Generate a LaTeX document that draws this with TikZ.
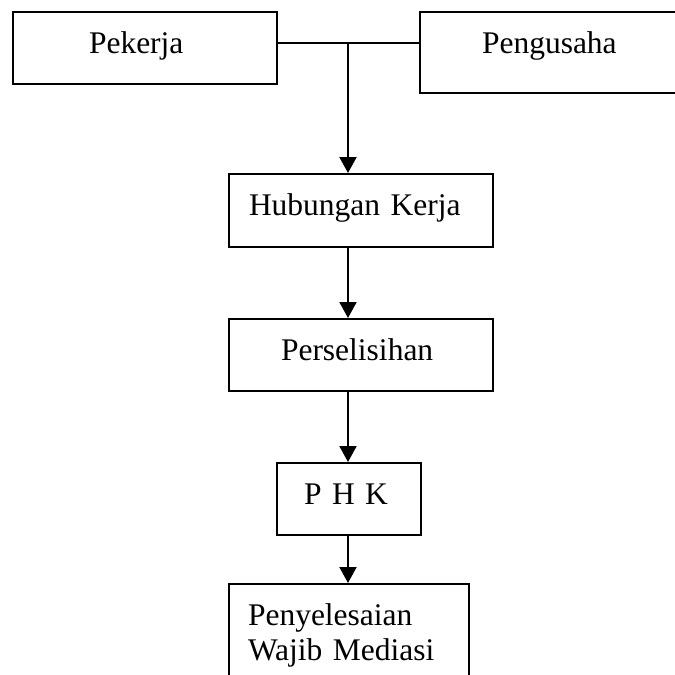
\documentclass[tikz,border=0pt]{standalone}
\usepackage{fontspec}
\setmainfont{Liberation Serif}
\usetikzlibrary{arrows.meta}

\begin{document}
\begin{tikzpicture}[x=1pt, y=-1pt,
  every node/.style = {shape=rectangle, draw, line width=2pt,
    align=left, inner ysep=0pt, text height=41pt,
    font=\fontsize{31.5}{35}\selectfont, anchor=north west},
  panah/.style = {line width=2pt, -{Triangle[length=16pt, width=17pt]}}]
  \useasboundingbox (0,0) rectangle (675,675);
  \node (pekerja) at (12,11) [inner xsep=76pt, text width=112pt, text depth=31pt] {Pekerja};
  \node (pengusaha) at (419,11) [inner xsep=62pt, text width=177pt, text depth=40pt] {Pengusaha};
  \node (hubungan) at (228,173) [inner xsep=20pt, text width=224pt, text depth=32pt] {Hubungan Kerja};
  \node (selisih) at (228,318) [inner xsep=52pt, text width=160pt, text depth=31pt] {Perselisihan};
  \node (phk) at (276,462) [inner xsep=27pt, text width=90pt, text depth=31pt] {P H K};
  \node (mediasi) at (228,583) [inner xsep=19pt, text width=202pt, text depth=80pt] {Penyelesaian\\Wajib Mediasi};
  \coordinate (j) at (348,43);
  % garis penghubung
  \draw[line width=2pt] (pekerja.east |- j) -- (pengusaha.west |- j);
  \draw[panah] (j) -- (hubungan.north -| j);
  \draw[panah] (hubungan.south -| j) -- (selisih.north -| j);
  \draw[panah] (selisih.south -| j) -- (phk.north -| j);
  \draw[panah] (phk.south -| j) -- (mediasi.north -| j);
\end{tikzpicture}
\end{document}
